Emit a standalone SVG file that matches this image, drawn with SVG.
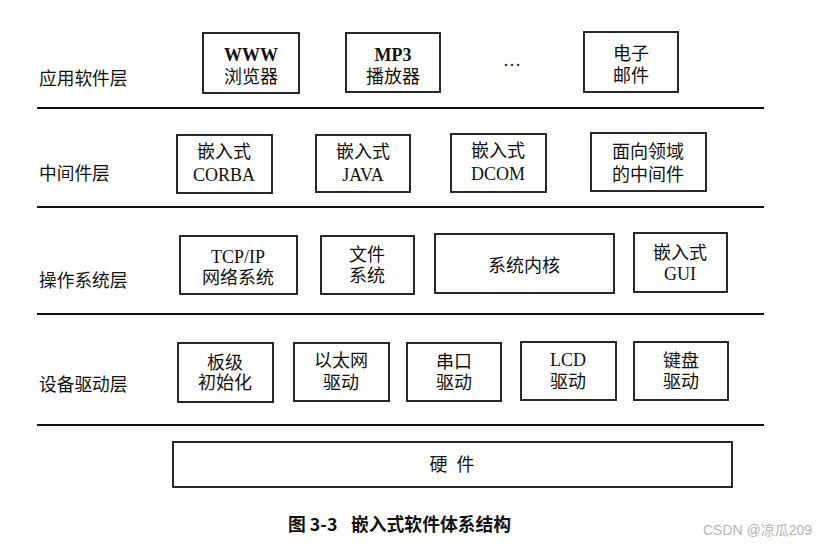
<svg xmlns="http://www.w3.org/2000/svg" width="828" height="548" viewBox="0 0 828 548">
<style>
.bg{fill:#fff}
.box{fill:#fff;stroke:#111;stroke-width:1.8}
.sep{stroke:#111;stroke-width:2.2}
.t{font-family:"Liberation Serif","Noto Sans CJK SC",serif;font-size:18px;fill:#111;text-anchor:middle;dominant-baseline:central}
.lab{font-family:"Noto Sans CJK SC","Liberation Sans",sans-serif;font-size:17.7px;fill:#111;dominant-baseline:central}
.cap{font-family:"Noto Sans CJK SC","Liberation Sans",sans-serif;font-size:17.8px;font-weight:bold;fill:#111;dominant-baseline:central}
.wm{font-family:"Liberation Sans","Noto Sans CJK SC",sans-serif;font-size:14px;fill:#b5b5b5;dominant-baseline:central}
</style>
<rect class="bg" x="0" y="0" width="828" height="548"/>
<g id="connectors">
<line class="sep" x1="37" y1="108" x2="764" y2="108"/>
<line class="sep" x1="37" y1="207" x2="764" y2="207"/>
<line class="sep" x1="37" y1="314" x2="764" y2="314"/>
<line class="sep" x1="37" y1="425" x2="764" y2="425"/>
</g>
<g id="labels">
<text class="lab" x="39" y="77">应用软件层</text>
<text class="lab" x="39" y="172">中间件层</text>
<text class="lab" x="39" y="279">操作系统层</text>
<text class="lab" x="39" y="383">设备驱动层</text>
</g>
<g id="www"><rect class="box" x="203" y="33" width="96" height="60"/><text class="t" x="251" y="55" font-weight="bold">WWW</text><text class="t" x="251" y="77">浏览器</text></g>
<g id="mp3"><rect class="box" x="346" y="33" width="94" height="59"/><text class="t" x="393" y="55" font-weight="bold">MP3</text><text class="t" x="393" y="77">播放器</text></g>
<g id="dots"><text class="t" x="512" y="60">…</text></g>
<g id="email"><rect class="box" x="584" y="32" width="94" height="60"/><text class="t" x="631" y="54">电子</text><text class="t" x="631" y="76">邮件</text></g>
<g id="corba"><rect class="box" x="177" y="135" width="95" height="58"/><text class="t" x="224" y="152">嵌入式</text><text class="t" x="224" y="175">CORBA</text></g>
<g id="java"><rect class="box" x="316" y="135" width="94" height="57"/><text class="t" x="363" y="152">嵌入式</text><text class="t" x="363" y="175">JAVA</text></g>
<g id="dcom"><rect class="box" x="451" y="134" width="95" height="58"/><text class="t" x="498" y="151">嵌入式</text><text class="t" x="498" y="174">DCOM</text></g>
<g id="domain"><rect class="box" x="591" y="133" width="115" height="58"/><text class="t" x="648" y="152">面向领域</text><text class="t" x="648" y="175">的中间件</text></g>
<g id="tcpip"><rect class="box" x="180" y="236" width="117" height="58"/><text class="t" x="238" y="257">TCP/IP</text><text class="t" x="238" y="278">网络系统</text></g>
<g id="fs"><rect class="box" x="321" y="236" width="93" height="58"/><text class="t" x="367" y="255">文件</text><text class="t" x="367" y="276">系统</text></g>
<g id="kernel"><rect class="box" x="435" y="234" width="179" height="59"/><text class="t" x="524" y="266">系统内核</text></g>
<g id="gui"><rect class="box" x="634" y="233" width="93" height="59"/><text class="t" x="680" y="253">嵌入式</text><text class="t" x="680" y="274">GUI</text></g>
<g id="board"><rect class="box" x="178" y="343" width="95" height="59"/><text class="t" x="225" y="363">板级</text><text class="t" x="225" y="383">初始化</text></g>
<g id="eth"><rect class="box" x="294" y="343" width="95" height="58"/><text class="t" x="341" y="361">以太网</text><text class="t" x="341" y="383">驱动</text></g>
<g id="serial"><rect class="box" x="407" y="343" width="94" height="58"/><text class="t" x="454" y="362">串口</text><text class="t" x="454" y="383">驱动</text></g>
<g id="lcd"><rect class="box" x="521" y="342" width="95" height="58"/><text class="t" x="568" y="360">LCD</text><text class="t" x="568" y="382">驱动</text></g>
<g id="kbd"><rect class="box" x="634" y="342" width="94" height="58"/><text class="t" x="681" y="361">键盘</text><text class="t" x="681" y="382">驱动</text></g>
<g id="hw"><rect class="box" x="173" y="442" width="559" height="45"/><text class="t" x="452" y="465" xml:space="preserve">硬  件</text></g>
<g id="caption"><text class="cap" x="288" y="523">图 3-3</text><text class="cap" x="351" y="523">嵌入式软件体系结构</text></g>
<g id="watermark"><text class="wm" x="703" y="530">CSDN @凉瓜209</text></g>
</svg>
